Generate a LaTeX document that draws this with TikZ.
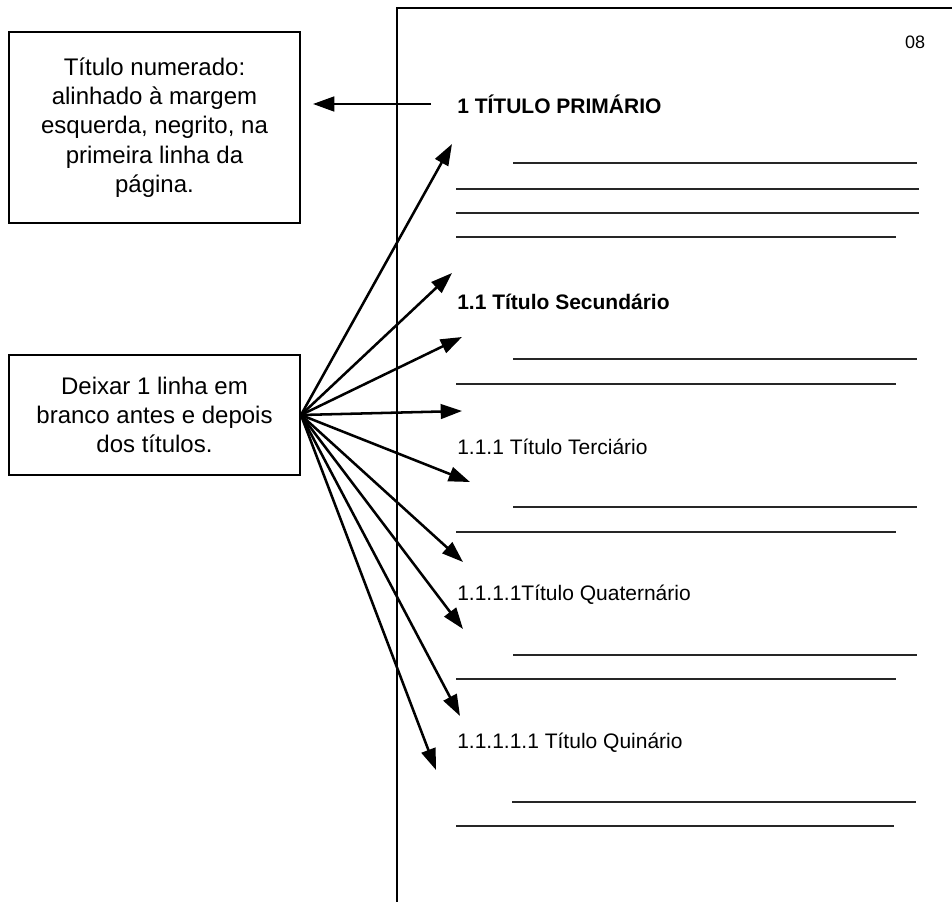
\documentclass[tikz,border=0pt]{standalone}
\usepackage{fontspec}
\setmainfont{Liberation Sans}
\usetikzlibrary{arrows.meta,positioning}

\begin{document}
\begin{tikzpicture}[x=0.75pt, y=-0.75pt,
  note/.style={draw, line width=1.4pt, align=center, inner sep=0pt,
    minimum width=218.25pt, font=\fontsize{18}{22}\selectfont},
  heading/.style={anchor=west, inner sep=0pt, font=\fontsize{15.75}{18}\selectfont},
  rule/.style={line width=1.1pt, black!85},
  pointer/.style={-{Triangle[length=16pt,width=11pt]}, line width=1.9pt}]
  \useasboundingbox (0,0) rectangle (952,902);

  % page
  \draw[line width=1.5pt] (397,902) -- (397,8) -- (952,8);
  \node (num) [font=\fontsize{13.5}{16}\selectfont] at (915,42) {08};

  % notes on the left
  \node (numbered) [note, minimum height=143.25pt] at (154.5,127.5)
    {Título numerado:\\ alinhado à margem\\ esquerda, negrito, na\\ primeira linha da\\ página.};
  \node (blank) [note, minimum height=90pt] at (154.5,415)
    {Deixar 1 linha em\\ branco antes e depois\\ dos títulos.};

  % headings
  \node (primary) [heading] at (457,104) {\bfseries 1 TÍTULO PRIMÁRIO};
  \node (secondary) [heading] at (457,302) {\bfseries 1.1 Título Secundário};
  \node (tertiary) [heading] at (457,447) {1.1.1 Título Terciário};
  \node (quaternary) [heading] at (457,595) {1.1.1.1Título Quaternário};
  \node (quinary) [heading] at (457,743) {1.1.1.1.1 Título Quinário};

  % text lines
  \draw[rule] (513,163) -- (917,163);
  \draw[rule] (456,189) -- (919,189);
  \draw[rule] (456,213) -- (919,213);
  \draw[rule] (456,237) -- (896,237);
  \draw[rule] (513,359) -- (917,359);
  \draw[rule] (456,384) -- (896,384);
  \draw[rule] (513,507) -- (917,507);
  \draw[rule] (456,532) -- (896,532);
  \draw[rule] (513,655) -- (917,655);
  \draw[rule] (456,679) -- (896,679);
  \draw[rule] (512,802) -- (916,802);
  \draw[rule] (456,826) -- (894,826);

  % arrow back to the first note
  \draw[pointer, shorten <=19.5pt, shorten >=9pt] (primary.west) -- (primary.west -| numbered.east);

  % blank line markers
  \coordinate (b1) at (452,144);
  \coordinate (b2) at (452,273);
  \coordinate (b3) at (462,337);
  \coordinate (b4) at (462,411);
  \coordinate (b5) at (470,482);
  \coordinate (b6) at (463,562);
  \coordinate (b7) at (463,629);
  \coordinate (b8) at (460,716);
  \coordinate (b9) at (436,770);
  \draw[pointer] (blank.east) -- (b1);
  \draw[pointer] (blank.east) -- (b2);
  \draw[pointer] (blank.east) -- (b3);
  \draw[pointer] (blank.east) -- (b4);
  \draw[pointer] (blank.east) -- (b5);
  \draw[pointer] (blank.east) -- (b6);
  \draw[pointer] (blank.east) -- (b7);
  \draw[pointer] (blank.east) -- (b8);
  \draw[pointer] (blank.east) -- (b9);
\end{tikzpicture}
\end{document}
